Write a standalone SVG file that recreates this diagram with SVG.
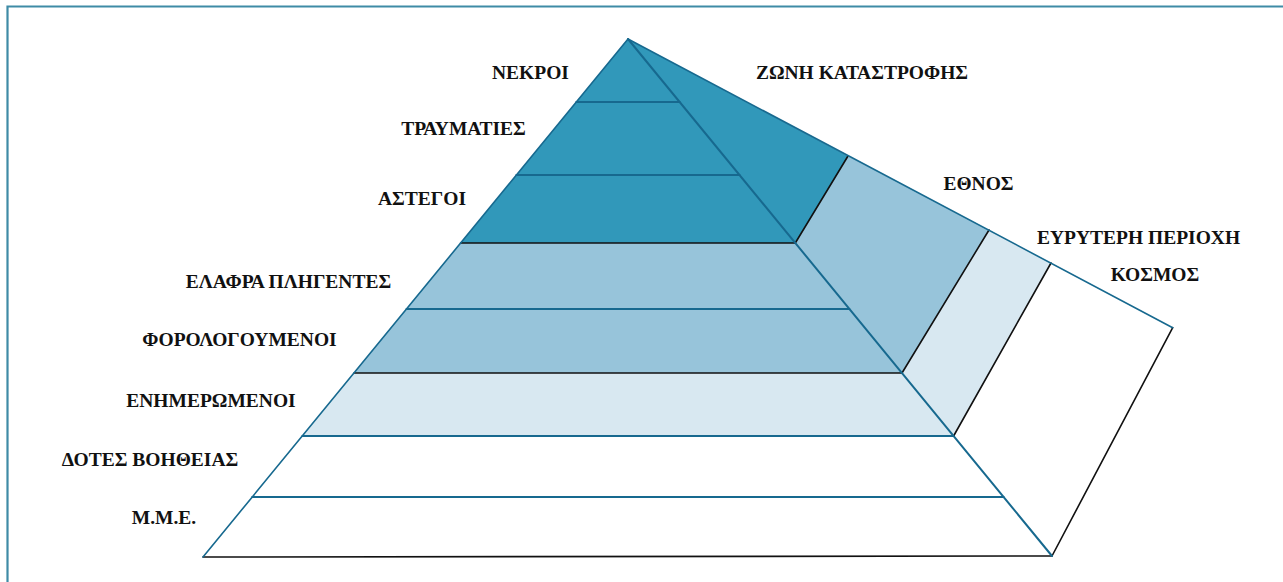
<svg xmlns="http://www.w3.org/2000/svg" width="1283" height="582" viewBox="0 0 1283 582">
<style>
.dark{fill:#3198ba}
.mid{fill:#97c4da}
.light{fill:#d8e8f1}
.white{fill:#ffffff}
.t{stroke:#17698f;stroke-width:2;fill:none;stroke-linecap:round}
.k{stroke:#111111;stroke-width:1.6;fill:none;stroke-linecap:round}
.lbl{font-family:"Liberation Serif","Times New Roman",serif;font-weight:bold;font-size:19.5px;fill:#111111;text-anchor:middle}
</style>
<rect x="0" y="0" width="1283" height="582" fill="#ffffff"/>
<path d="M7.5,582 V6.5 H1283" fill="none" stroke="#3f8ba6" stroke-width="2.2"/>

<g id="face-zoni">
<polygon class="dark" points="628,39 848,156 795.3,243"/>
<text class="lbl" x="862" y="79">ΖΩΝΗ ΚΑΤΑΣΤΡΟΦΗΣ</text>
</g>
<g id="face-ethnos">
<polygon class="mid" points="848,156 989,230 902,373 795.3,243"/>
<text class="lbl" x="978.5" y="190">ΕΘΝΟΣ</text>
</g>
<g id="face-evryteri">
<polygon class="light" points="989,230 1051,263 953.6,436 902,373"/>
<text class="lbl" x="1138.5" y="244">ΕΥΡΥΤΕΡΗ ΠΕΡΙΟΧΗ</text>
</g>
<g id="face-kosmos">
<polygon class="white" points="1051,263 1172.7,327.7 1052,556 953.6,436"/>
<text class="lbl" x="1155" y="281">ΚΟΣΜΟΣ</text>
</g>

<g id="band-nekroi">
<polygon class="dark" points="628,39 679.7,102 576.3,102"/>
<text class="lbl" x="530.5" y="79">ΝΕΚΡΟΙ</text>
</g>
<g id="band-traumaties">
<polygon class="dark" points="576.3,102 679.7,102 739.5,175 516.4,175"/>
<text class="lbl" x="463.5" y="135">ΤΡΑΥΜΑΤΙΕΣ</text>
</g>
<g id="band-astegoi">
<polygon class="dark" points="516.4,175 739.5,175 795.3,243 460.6,243"/>
<text class="lbl" x="422" y="205">ΑΣΤΕΓΟΙ</text>
</g>
<g id="band-elafra">
<polygon class="mid" points="460.6,243 795.3,243 849.4,309 406.5,309"/>
<text class="lbl" x="288.5" y="288">ΕΛΑΦΡΑ ΠΛΗΓΕΝΤΕΣ</text>
</g>
<g id="band-forologoumenoi">
<polygon class="mid" points="406.5,309 849.4,309 901.9,373 354,373"/>
<text class="lbl" x="239.5" y="346">ΦΟΡΟΛΟΓΟΥΜΕΝΟΙ</text>
</g>
<g id="band-enimeromenoi">
<polygon class="light" points="354,373 901.9,373 953.6,436 302.3,436"/>
<text class="lbl" x="211" y="407">ΕΝΗΜΕΡΩΜΕΝΟΙ</text>
</g>
<g id="band-dotes">
<polygon class="white" points="302.3,436 953.6,436 1003.6,497 252.2,497"/>
<text class="lbl" x="150" y="466">ΔΟΤΕΣ ΒΟΗΘΕΙΑΣ</text>
</g>
<g id="band-mme">
<polygon class="white" points="252.2,497 1003.6,497 1052,556 203,557"/>
<text class="lbl" x="164" y="524">Μ.Μ.Ε.</text>
</g>

<g id="lines">
<line class="t" x1="576.3" y1="102" x2="679.7" y2="102"/>
<line class="t" x1="516.4" y1="175" x2="739.5" y2="175"/>
<line class="k" x1="460.6" y1="243" x2="795.3" y2="243"/>
<line class="t" x1="406.5" y1="309" x2="849.4" y2="309"/>
<line class="k" x1="354" y1="373" x2="901.9" y2="373"/>
<line class="t" x1="302.3" y1="436" x2="953.6" y2="436"/>
<line class="t" x1="252.2" y1="497" x2="1003.6" y2="497"/>
<line class="k" x1="203" y1="557" x2="1052" y2="556"/>
<line class="k" x1="795.3" y1="243" x2="848" y2="156"/>
<line class="k" x1="902" y1="373" x2="989" y2="230"/>
<line class="k" x1="953.6" y1="436" x2="1051" y2="263"/>
<line class="k" x1="1052" y1="556" x2="1172.7" y2="327.7"/>
<line class="t" x1="628" y1="39" x2="203" y2="557" style="stroke-width:1.6"/>
<line class="t" x1="628" y1="39" x2="1052" y2="556"/>
<line class="t" x1="628" y1="39" x2="1172.7" y2="327.7" style="stroke-width:1.6"/>
</g>
</svg>
